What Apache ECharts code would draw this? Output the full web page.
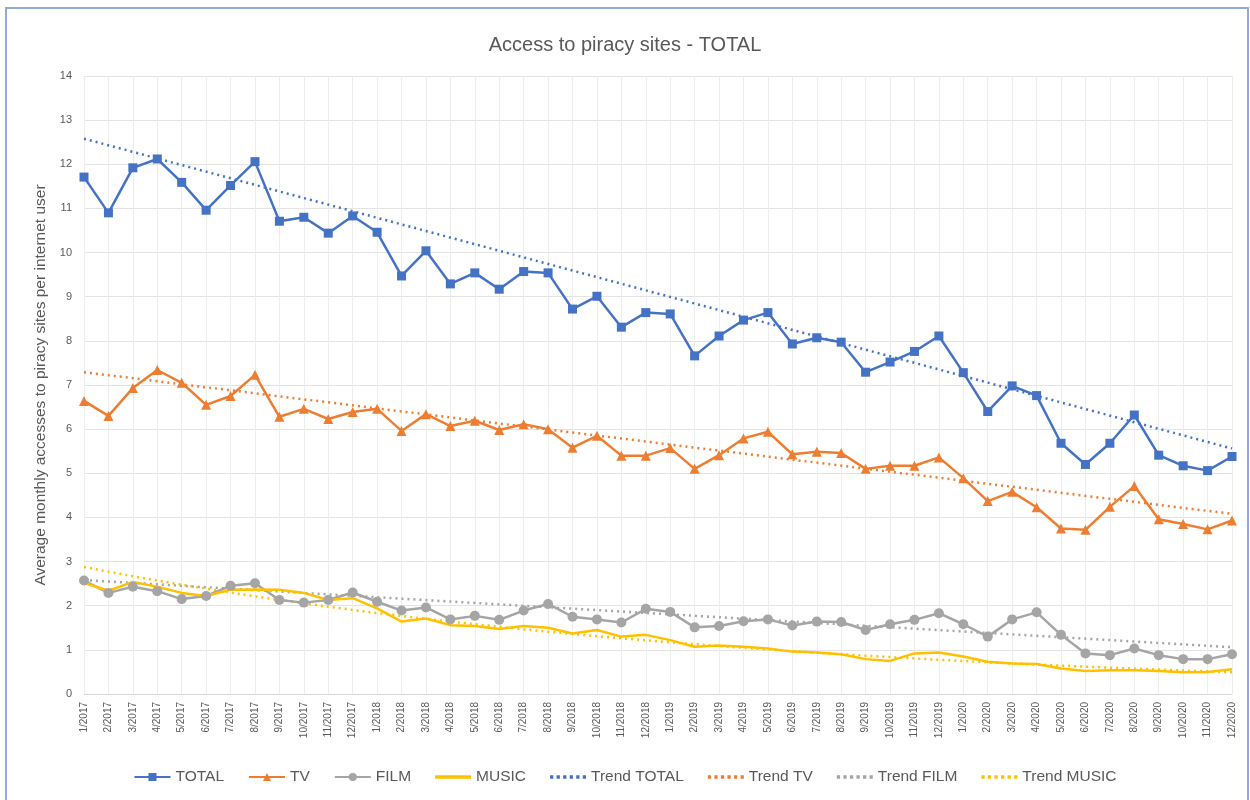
<!DOCTYPE html>
<html>
<head>
<meta charset="utf-8">
<title>Access to piracy sites - TOTAL</title>
<script src="https://cdn.jsdelivr.net/npm/echarts@6/dist/echarts.min.js"></script>
<style>
    html, body { margin: 0; padding: 0; background: #fff; }
    #frame {
        position: absolute; left: 5px; top: 7px; width: 1240px; height: 800px;
        border: 2px solid #8FAADC; border-bottom: none; pointer-events: none;
    }
    #main { position: absolute; left: 0; top: 0; width: 1250px; height: 800px; }
</style>
</head>
<body>
<div id="main"></div>
<div id="frame"></div>
<script>
// months 1/2017 .. 12/2020
const months = [];
for (let y = 2017; y <= 2020; y++) {
    for (let m = 1; m <= 12; m++) months.push(m + "/" + y);
}

const total = [11.71, 10.90, 11.92, 12.12, 11.59, 10.96, 11.52, 12.06, 10.71, 10.80, 10.44, 10.83,
    10.46, 9.47, 10.04, 9.29, 9.54, 9.17, 9.57, 9.54, 8.72, 9.01, 8.31, 8.64,
    8.61, 7.66, 8.11, 8.47, 8.64, 7.93, 8.07, 7.97, 7.29, 7.52, 7.76, 8.11,
    7.28, 6.40, 6.98, 6.76, 5.68, 5.20, 5.68, 6.32, 5.41, 5.17, 5.06, 5.38];

const tv = [6.64, 6.30, 6.93, 7.34, 7.05, 6.55, 6.75, 7.23, 6.28, 6.46, 6.23, 6.39,
    6.46, 5.96, 6.34, 6.07, 6.19, 5.98, 6.11, 6.00, 5.58, 5.85, 5.40, 5.40,
    5.57, 5.10, 5.41, 5.79, 5.94, 5.43, 5.49, 5.46, 5.10, 5.17, 5.17, 5.36,
    4.89, 4.37, 4.58, 4.23, 3.75, 3.72, 4.24, 4.71, 3.96, 3.85, 3.73, 3.93];

const film = [2.57, 2.29, 2.43, 2.33, 2.15, 2.22, 2.45, 2.51, 2.13, 2.07, 2.13, 2.30,
    2.09, 1.89, 1.96, 1.69, 1.77, 1.68, 1.89, 2.04, 1.75, 1.69, 1.62, 1.93,
    1.86, 1.51, 1.54, 1.65, 1.69, 1.55, 1.64, 1.63, 1.45, 1.58, 1.68, 1.83,
    1.58, 1.30, 1.69, 1.85, 1.34, 0.92, 0.88, 1.03, 0.88, 0.79, 0.79, 0.90];

const music = [2.52, 2.34, 2.54, 2.43, 2.29, 2.22, 2.36, 2.37, 2.36, 2.29, 2.13, 2.17,
    1.94, 1.64, 1.71, 1.56, 1.54, 1.47, 1.54, 1.50, 1.37, 1.45, 1.30, 1.34,
    1.22, 1.07, 1.10, 1.07, 1.03, 0.96, 0.94, 0.90, 0.79, 0.75, 0.92, 0.94,
    0.85, 0.73, 0.69, 0.68, 0.58, 0.52, 0.54, 0.54, 0.52, 0.49, 0.50, 0.56];

// straight trend lines: value at 1/2017 and at 12/2020
const trendTotalEnds = [12.58, 5.56];
const trendTvEnds = [7.29, 4.08];
const trendFilmEnds = [2.58, 1.06];

// straight line between the two ends, nothing in between
function endsToData(ends) {
    return months.map((m, i) => (i === 0 ? ends[0] : i === months.length - 1 ? ends[1] : null));
}
// music trend is curved (exponential fit, like the spreadsheet's)
function expTrend(arr) {
    let n = arr.length, sx = 0, sy = 0, sxx = 0, sxy = 0;
    arr.forEach((v, i) => {
        let x = i + 1, ly = Math.log(v);
        sx += x; sy += ly; sxx += x * x; sxy += x * ly;
    });
    let b = (n * sxy - sx * sy) / (n * sxx - sx * sx);
    let a = (sy - b * sx) / n;
    return arr.map((v, i) => +Math.exp(a + b * (i + 1)).toFixed(3));
}

const colors = ["#4472C4", "#ED7D31", "#A5A5A5", "#FFC000"];
const dotIcon = "path://M0,0h3v3h-3z M6,0h3v3h-3z M12,0h3v3h-3z M18,0h3v3h-3z M24,0h3v3h-3z M30,0h3v3h-3z";
const lineIcon = "path://M0,0h33v3h-33z";

function mainLine(name, data, color, symbol, size) {
    return {
        name: name,
        type: "line",
        data: data,
        symbol: symbol,
        symbolSize: size,
        showSymbol: symbol !== "none",
        color: color,
        lineStyle: { color: color, width: 2.5 },
        itemStyle: { color: color },
        z: 3,
    };
}
function trendLine(name, data, color) {
    return {
        name: name,
        type: "line",
        data: data,
        symbol: "none",
        connectNulls: true,
        color: color,
        lineStyle: { color: color, width: 2.5, type: [2, 4] },
        z: 2,
    };
}

const option = {
    backgroundColor: "#fff",
    animation: false,
    textStyle: { fontFamily: "Liberation Sans" },
    title: {
        text: "Access to piracy sites - TOTAL",
        left: "center",
        top: 30,
        textStyle: { fontSize: 20, fontWeight: "normal", color: "#595959" },
    },
    legend: {
        data: [
            { name: "TOTAL" },
            { name: "TV" },
            { name: "FILM" },
            { name: "MUSIC", icon: lineIcon },
            { name: "Trend TOTAL", icon: dotIcon },
            { name: "Trend TV", icon: dotIcon },
            { name: "Trend FILM", icon: dotIcon },
            { name: "Trend MUSIC", icon: dotIcon },
        ],
        bottom: 10,
        left: "center",
        itemGap: 24,
        itemWidth: 36,
        itemHeight: 10,
        textStyle: { fontSize: 15.5, color: "#595959" },
    },
    grid: { left: 84, right: 18, top: 76, bottom: 106 },
    xAxis: {
        type: "category",
        data: months,
        boundaryGap: false,
        axisLine: { show: true, lineStyle: { color: "#D9D9D9" } },
        axisTick: { show: false },
        axisLabel: { rotate: 90, interval: 0, fontSize: 10, color: "#595959", margin: 8 },
        splitLine: { show: true, lineStyle: { color: "#EDEDED", width: 1 } },
    },
    yAxis: {
        type: "value",
        min: 0,
        max: 14,
        interval: 1,
        name: "Average monthly accesses to piracy sites per internet user",
        nameLocation: "middle",
        nameGap: 33,
        nameTextStyle: { fontSize: 15.5, color: "#595959" },
        axisLine: { show: false },
        axisTick: { show: false },
        axisLabel: { fontSize: 11, color: "#595959", margin: 12 },
        splitLine: { lineStyle: { color: "#E3E3E3", width: 1 } },
    },
    series: [
        mainLine("TOTAL", total, colors[0], "rect", 9),
        mainLine("TV", tv, colors[1], "triangle", 10),
        mainLine("FILM", film, colors[2], "circle", 10),
        mainLine("MUSIC", music, colors[3], "none", 0),
        trendLine("Trend TOTAL", endsToData(trendTotalEnds), colors[0]),
        trendLine("Trend TV", endsToData(trendTvEnds), colors[1]),
        trendLine("Trend FILM", endsToData(trendFilmEnds), colors[2]),
        trendLine("Trend MUSIC", expTrend(music), colors[3]),
    ],
};

var myChart = echarts.init(document.getElementById("main"));
myChart.setOption(option);
</script>
</body>
</html>
